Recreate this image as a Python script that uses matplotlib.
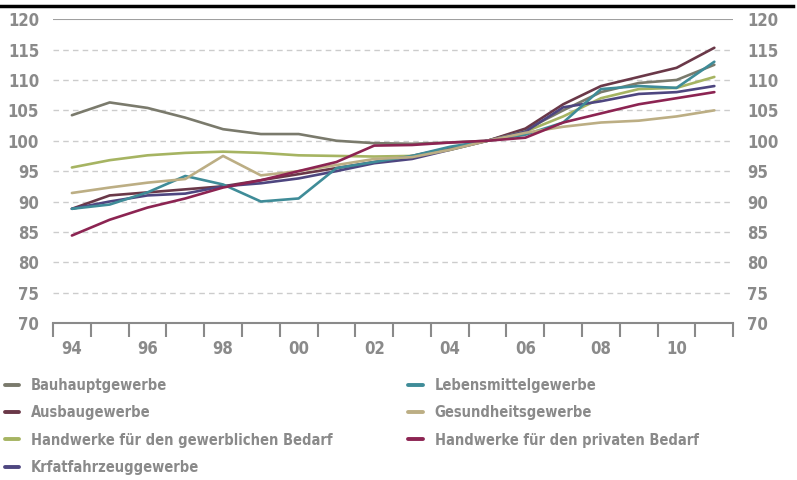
import numpy as np
import matplotlib.pyplot as plt

plt.rcParams['font.family'] = ['DejaVu Sans']
plt.rcParams['font.stretch'] = 'condensed'

years = ['94', '95', '96', '97', '98', '99', '00', '01', '02',
         '03', '04', '05', '06', '07', '08', '09', '10', '11']

bauhaupt = [104.2, 106.3, 105.4, 103.8, 101.9, 101.1, 101.1, 100.0, 99.6,
            99.5, 99.7, 100.0, 101.8, 105.0, 108.0, 109.5, 110.0, 112.5]
ausbau = [88.8, 91.0, 91.5, 92.0, 92.5, 93.5, 94.5, 95.5, 96.5,
          97.5, 98.8, 100.0, 102.0, 106.0, 109.0, 110.5, 112.0, 115.3]
gewerblich = [95.6, 96.8, 97.6, 98.0, 98.2, 98.0, 97.6, 97.5, 97.4,
              97.5, 98.5, 100.0, 101.5, 104.0, 107.0, 108.5, 108.7, 110.5]
kfz = [88.8, 90.0, 91.0, 91.3, 92.5, 93.0, 93.8, 95.0, 96.3,
       97.0, 98.5, 100.0, 101.5, 105.5, 106.5, 107.7, 108.0, 109.0]
lebensmittel = [88.8, 89.5, 91.5, 94.2, 92.8, 90.0, 90.5, 95.5, 96.5,
                97.5, 99.0, 100.0, 101.0, 103.0, 108.5, 109.0, 108.7, 113.0]
gesundheit = [91.4, 92.3, 93.1, 93.7, 97.5, 94.3, 95.0, 96.0, 97.0,
              97.3, 98.5, 100.0, 101.3, 102.3, 103.0, 103.3, 104.0, 105.0]
privat = [84.4, 87.0, 89.0, 90.5, 92.3, 93.5, 95.0, 96.5, 99.2,
          99.3, 99.7, 100.0, 100.5, 103.0, 104.5, 106.0, 107.0, 108.0]

series = [
    ('Bauhauptgewerbe', bauhaupt, '#7a7a6c'),
    ('Ausbaugewerbe', ausbau, '#6a3848'),
    ('Handwerke für den gewerblichen Bedarf', gewerblich, '#a6b462'),
    ('Krfatfahrzeuggewerbe', kfz, '#4e4680'),
    ('Lebensmittelgewerbe', lebensmittel, '#3f8c98'),
    ('Gesundheitsgewerbe', gesundheit, '#bcae84'),
    ('Handwerke für den privaten Bedarf', privat, '#8c2452'),
]

grey = '#8a8a8a'

fig = plt.figure(figsize=(7.97, 4.8), dpi=100)
ax = fig.add_axes([0.0665, 0.327, 0.8535, 0.633])

x = np.arange(len(years))
for name, vals, col in series:
    ax.plot(x, vals, color=col, lw=1.9, label=name, solid_capstyle='round')

ax.set_xlim(-0.5, len(years) - 0.5)
ax.set_ylim(70, 120)
yt = np.arange(70, 121, 5)
for v in yt[1:-1]:
    ax.axhline(v, color='#cccccc', lw=1, ls=(0, (4, 3)), zorder=0)
ax.axhline(120, color='#a0a0a0', lw=1.5, zorder=0)

for s in ['left', 'right', 'top']:
    ax.spines[s].set_visible(False)
ax.spines['bottom'].set_color(grey)
ax.spines['bottom'].set_linewidth(1.5)

ax.set_yticks(yt)
ax.tick_params(axis='y', length=0, labelsize=12, labelcolor=grey,
               labelleft=True, labelright=True, pad=10)
for lab in ax.get_yticklabels():
    lab.set_fontweight('bold')

ax.set_xticks(np.arange(-0.5, len(years)), minor=False)
ax.set_xticklabels([])
ax.set_xticks(x[::2], minor=True)
ax.set_xticklabels(years[::2], minor=True)
ax.tick_params(axis='x', which='major', length=10, width=1.5, color=grey)
ax.tick_params(axis='x', which='minor', length=0, labelsize=12,
               labelcolor=grey, pad=12)
for lab in ax.get_xticklabels(minor=True):
    lab.set_fontweight('bold')

fig.add_artist(plt.Line2D([0, 0.995], [0.988, 0.988], color='black', lw=2.5))

leg = fig.legend(loc='upper left', bbox_to_anchor=(0.006, 0.213), ncol=2,
                 frameon=False, handlelength=1.0, handletextpad=0.8,
                 columnspacing=5.2, labelspacing=0.85, borderpad=0,
                 borderaxespad=0,
                 prop={'size': 10.5, 'weight': 'bold', 'stretch': 'condensed'})
for t in leg.get_texts():
    t.set_color(grey)
for h in leg.legend_handles:
    h.set_linewidth(2.8)

plt.savefig('out.png', dpi=100)
